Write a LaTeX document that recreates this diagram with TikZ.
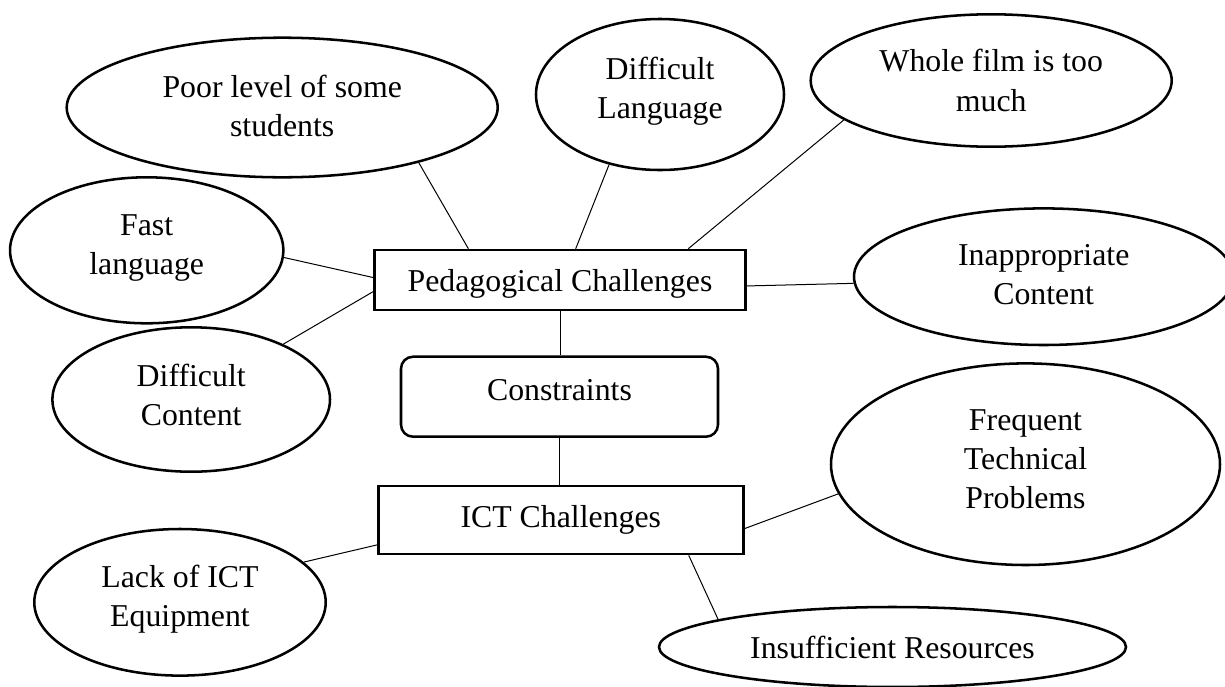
\documentclass[tikz,border=0pt]{standalone}
\usepackage{fontspec}
\setmainfont{Liberation Serif}
\usetikzlibrary{shapes.geometric,calc}
\begin{document}
\begin{tikzpicture}[x=0.75pt,y=-0.75pt,
  every node/.style={font=\fontsize{23.85pt}{29.5pt}\selectfont},
  bubble/.style={ellipse, draw, line width=1.9pt, inner sep=0pt, align=center},
  pbox/.style={rectangle, draw, line width=1.9pt, inner sep=0pt, align=center},
  link/.style={line width=0.75pt}]
\useasboundingbox (0,0) rectangle (1225,686);
\clip (0,0) rectangle (1225,686);
% ellipses
\node[bubble, minimum width=323.25pt, minimum height=104.7pt, text depth=3pt] (poor) at (282.2,107.5) {Poor level of some\\students};
\node[bubble, minimum width=186pt, minimum height=113.25pt, text depth=9.7pt] (difflang) at (660,94.5) {Difficult\\Language};
\node[bubble, minimum width=270.75pt, minimum height=99.3pt] (whole) at (991.2,80.5) {Whole film is too\\much};
\node[bubble, minimum width=205pt, minimum height=109.5pt, text depth=8.2pt] (fast) at (146.7,250.3) {Fast\\language};
\node[bubble, minimum width=284.55pt, minimum height=102.45pt, text depth=3.75pt] (inapp) at (1043.7,276.7) {Inappropriate\\Content};
\node[bubble, minimum width=208.2pt, minimum height=108.3pt, text depth=7.5pt] (diffcont) at (191.2,399.5) {Difficult\\Content};
\node[bubble, minimum width=291.75pt, minimum height=151.2pt, text depth=7.5pt] (freq) at (1025.5,464.2) {Frequent\\Technical\\Problems};
\node[bubble, minimum width=218.55pt, minimum height=109.95pt, text depth=10.1pt] (lack) at (180,602.3) {Lack of ICT\\Equipment};
\node[bubble, minimum width=350.25pt, minimum height=60pt] (insuff) at (892.5,647) {Insufficient Resources};
% boxes
\node[pbox, minimum width=278.55pt, minimum height=45pt, text height=17.6pt, text depth=0pt] (ped) at (560,280) {Pedagogical Challenges};
\node[pbox, rounded corners=9pt, minimum width=237.75pt, minimum height=60pt, text height=16.5pt, text depth=11.5pt] (cons) at (559.5,396.7) {Constraints};
\node[pbox, minimum width=273.75pt, minimum height=51pt] (ict) at (560.8,520) {ICT Challenges};
% connectors
\draw[link] (poor.-22.5) -- ($(ped.north west)!0.255!(ped.north east)$);
\draw[link] (difflang.234.9) -- ($(ped.north west)!0.542!(ped.north east)$);
\draw[link] (whole.195.4) -- ($(ped.north west)!0.843!(ped.north east)$);
\draw[link] (fast.-3.6) -- ($(ped.north west)!0.46!(ped.south west)$);
\draw[link] (diffcont.31.6) -- ($(ped.north west)!0.687!(ped.south west)$);
\draw[link] ($(ped.north east)!0.595!(ped.south east)$) -- (inapp.182.2);
\draw[link] (ped.south) -- (ped.south |- cons.north);
\draw[link] (cons.south) -- (cons.south |- ict.north);
\draw[link] ($(ict.north west)!0.853!(ict.south west)$) -- (lack.18);
\draw[link] ($(ict.north east)!0.622!(ict.south east)$) -- (freq.189.9);
\draw[link] ($(ict.south west)!0.848!(ict.south east)$) -- (insuff.171);
\end{tikzpicture}
\end{document}
